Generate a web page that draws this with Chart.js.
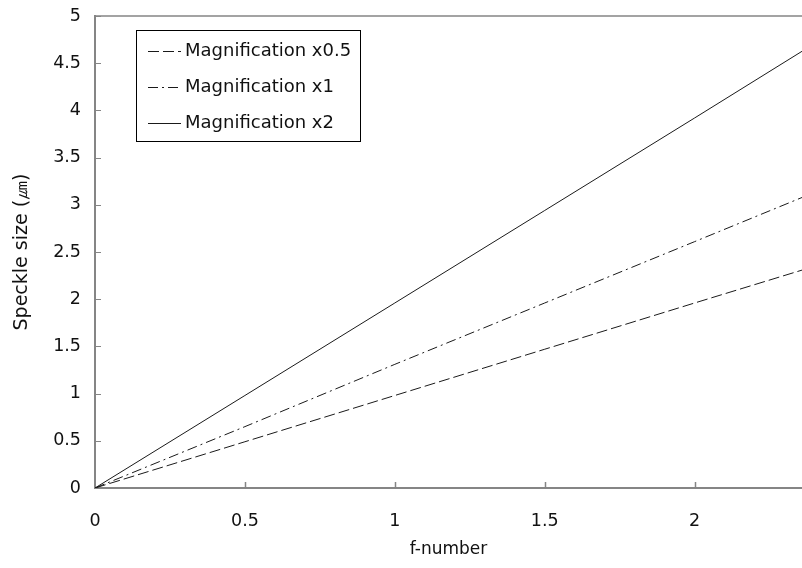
<!DOCTYPE html>
<html lang="en">
<head>
  <meta charset="UTF-8">
  <title>Speckle size vs f-number</title>
  <script src="https://cdn.jsdelivr.net/npm/chart.js"></script>
  <style>
    html, body {
      margin: 0;
      padding: 0;
      background: #fff;
    }
  </style>
</head>
<body>

  <canvas id="graficoSpeckle" width="802" height="568"></canvas>

  <script>
    // values
    const fNumber = [0, 0.5, 1, 1.5, 2, 2.36];
    const magHalf = [0, 0.49, 0.98, 1.47, 1.96, 2.31];
    const magOne  = [0, 0.65, 1.31, 1.96, 2.61, 3.08];
    const magTwo  = [0, 0.98, 1.96, 2.94, 3.92, 4.63];
    const seriesLabels = ['Magnification x0.5', 'Magnification x1', 'Magnification x2'];
    const xTicks = [0, 0.5, 1, 1.5, 2];
    const yTicks = [0, 0.5, 1, 1.5, 2, 2.5, 3, 3.5, 4, 4.5, 5];

    const FONT = "'DejaVu Sans', Verdana, sans-serif";
    const AXIS_GRAY = '#858585';

    const toPoints = ys => fNumber.map((x, i) => ({ x: x, y: ys[i] }));

    // boxed legend inside the plot, like the original
    const boxedLegend = {
      id: 'boxedLegend',
      afterDraw(chart) {
        const ctx = chart.ctx;
        const bx = 136, by = 30, bw = 224, bh = 111;
        ctx.save();
        ctx.fillStyle = '#fff';
        ctx.fillRect(bx, by, bw, bh);
        ctx.strokeStyle = '#000';
        ctx.lineWidth = 1;
        ctx.strokeRect(bx + 0.5, by + 0.5, bw, bh);
        ctx.font = '18px ' + FONT;
        ctx.textBaseline = 'middle';
        chart.data.datasets.forEach((ds, i) => {
          const y = by + 21 + i * 36;
          ctx.strokeStyle = ds.borderColor;
          ctx.lineWidth = 1;
          ctx.setLineDash(ds.borderDash || []);
          ctx.beginPath();
          ctx.moveTo(148, y + 0.5);
          ctx.lineTo(181, y + 0.5);
          ctx.stroke();
          ctx.setLineDash([]);
          ctx.fillStyle = '#111';
          ctx.fillText(ds.label, 185, y);
        });
        ctx.restore();
      }
    };

    // inward tick marks and top frame line
    const innerTicks = {
      id: 'innerTicks',
      afterDatasetsDraw(chart) {
        const { ctx, chartArea, scales } = chart;
        ctx.save();
        ctx.strokeStyle = AXIS_GRAY;
        ctx.lineWidth = 1.5;
        ctx.beginPath();
        ctx.moveTo(chartArea.left, chartArea.top);
        ctx.lineTo(chartArea.right, chartArea.top);
        xTicks.slice(1).forEach(v => {
          const px = Math.round(scales.x.getPixelForValue(v)) + 0.5;
          ctx.moveTo(px, chartArea.bottom);
          ctx.lineTo(px, chartArea.bottom - 6);
        });
        ctx.stroke();
        ctx.lineWidth = 1;
        ctx.beginPath();
        yTicks.slice(1).forEach(v => {
          const py = Math.round(scales.y.getPixelForValue(v)) + 0.5;
          ctx.moveTo(chartArea.left, py);
          ctx.lineTo(chartArea.left + 6, py);
        });
        ctx.stroke();
        ctx.restore();
      }
    };

    const ctxSpeckle = document.getElementById('graficoSpeckle').getContext('2d');
    const graficoSpeckle = new Chart(ctxSpeckle, {
      type: 'line',
      data: {
        datasets: [
          {
            label: seriesLabels[0],
            data: toPoints(magHalf),
            borderColor: '#1a1a1a',
            borderWidth: 1,
            borderDash: [11, 4],
            pointRadius: 0,
            fill: false
          },
          {
            label: seriesLabels[1],
            data: toPoints(magOne),
            borderColor: '#1a1a1a',
            borderWidth: 1,
            borderDash: [10, 4, 2, 4],
            pointRadius: 0,
            fill: false
          },
          {
            label: seriesLabels[2],
            data: toPoints(magTwo),
            borderColor: '#1a1a1a',
            borderWidth: 1,
            pointRadius: 0,
            fill: false
          }
        ]
      },
      options: {
        responsive: false,
        animation: false,
        layout: { padding: { top: 16, right: 0, left: 0, bottom: 0 } },
        scales: {
          x: {
            type: 'linear',
            min: 0,
            max: 2.358,
            afterBuildTicks: s => { s.ticks = xTicks.map(v => ({ value: v })); },
            afterFit: s => { s.height = 80; s.paddingLeft = 0; s.paddingRight = 0; },
            grid: { display: false, drawTicks: false },
            border: { color: AXIS_GRAY, width: 2 },
            ticks: {
              color: '#111',
              padding: 23,
              font: { family: FONT, size: 17.5 },
              callback: v => String(v)
            },
            title: {
              display: true,
              text: 'f-number',
              color: '#111',
              font: { family: FONT, size: 17 },
              padding: { top: 0, bottom: 8 }
            }
          },
          y: {
            min: 0,
            max: 5,
            afterBuildTicks: s => { s.ticks = yTicks.map(v => ({ value: v })); },
            afterFit: s => { s.width = 95; s.paddingTop = 0; s.paddingBottom = 0; },
            grid: { display: false, drawTicks: false },
            border: { color: AXIS_GRAY, width: 2 },
            ticks: {
              color: '#111',
              padding: 14,
              font: { family: FONT, size: 17.5 },
              callback: v => String(v)
            },
            title: {
              display: true,
              text: 'Speckle size (㎛)',
              color: '#111',
              font: { family: FONT, size: 19 },
              padding: { top: 11, bottom: 0 }
            }
          }
        },
        plugins: {
          legend: { display: false },
          tooltip: { enabled: false }
        }
      },
      plugins: [innerTicks, boxedLegend]
    });
  </script>

</body>
</html>
